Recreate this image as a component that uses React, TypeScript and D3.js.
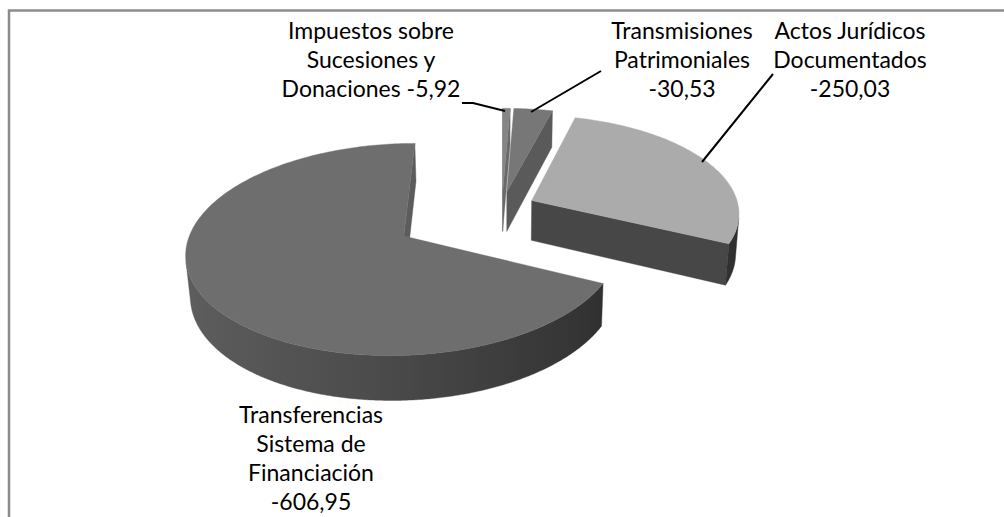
import React, { useRef, useEffect } from 'react';
import * as d3 from 'd3';

// Chart data
const categories = [
  'Impuestos sobre Sucesiones y Donaciones',
  'Transmisiones Patrimoniales',
  'Actos Jurídicos Documentados',
  'Transferencias Sistema de Financiación'
];
const values = [-5.92, -30.53, -250.03, -606.95];
const nameLines = [
  ['Impuestos sobre', 'Sucesiones y', 'Donaciones'],
  ['Transmisiones', 'Patrimoniales'],
  ['Actos Jurídicos', 'Documentados'],
  ['Transferencias', 'Sistema de', 'Financiación']
];
const valueInline = [true, false, false, false];
const explode = [33, 33, 33, 112];

// Styles
const topColors = ['#858585', '#777777', '#ababab', '#6e6e6e'];
const cutColors = ['#6a6a6a', '#5a5a5a', '#474747', '#5c5c5c'];

// Label layout (center x, first baseline) and leader lines
const labelPos = [
  { x: 371, y: 39 },
  { x: 682, y: 39 },
  { x: 850, y: 39 },
  { x: 311, y: 423 }
];
const leaders: ([number, number][] | null)[] = [
  [[462, 103], [473, 103], [505, 111]],
  [[531, 112], [601, 71]],
  [[702, 162], [773, 74]],
  null
];

const W = 1004;
const H = 517;

// 3D view settings
const R = 207;
const THICK = 46;
const PHI = (28 * Math.PI) / 180;
const DIST = 1500;
const CX = 502;
const CY = 207;

const fmt = (v: number) => d3.format('.2f')(v).replace('.', ',').replace('\u2212', '-');

function project(u: number, v: number, w: number): [number, number] {
  const depth = v * Math.cos(PHI) + w * Math.sin(PHI);
  const s = DIST / (DIST - depth);
  return [CX + s * u, CY + s * (v * Math.sin(PHI) - w * Math.cos(PHI))];
}

const cam = [0, DIST * Math.cos(PHI), DIST * Math.sin(PHI)];

function visible(p: number[], n: number[]) {
  return n[0] * (cam[0] - p[0]) + n[1] * (cam[1] - p[1]) + n[2] * (cam[2] - p[2]) > 0;
}

// side shade by outward normal angle: lighter on the left, darker on the right
function sideShade(t: number) {
  const s = Math.sin(t);
  const gv = Math.round(74 - (s > 0 ? 28 : 21) * s);
  return d3.rgb(gv, gv, gv).formatHex();
}

const App: React.FC = () => {
  const svgRef = useRef<SVGSVGElement | null>(null);

  useEffect(() => {
    if (!svgRef.current) return;
    const svg = d3.select(svgRef.current);
    svg.selectAll('*').remove();
    const defs = svg.append('defs');

    // chart border (only top and left edges show in the frame)
    svg.append('rect')
      .attr('x', 9)
      .attr('y', 10.5)
      .attr('width', 1200)
      .attr('height', 800)
      .attr('fill', 'none')
      .attr('stroke', '#8c8c8c')
      .attr('stroke-width', 2.5);

    const arcs = d3.pie<number>().sort(null).value(d => Math.abs(d))(values);

    const slices = arcs.map((a, i) => {
      const mid = (a.startAngle + a.endAngle) / 2;
      return {
        i,
        a0: a.startAngle,
        a1: a.endAngle,
        ou: explode[i] * Math.sin(mid),
        ov: -explode[i] * Math.cos(mid)
      };
    });

    const g = svg.append('g');
    const line = d3.line<[number, number]>();

    // back slices first
    slices
      .slice()
      .sort((p, q) => p.ov - q.ov)
      .forEach(sl => {
        const rim = (t: number, w: number): [number, number] =>
          project(sl.ou + R * Math.sin(t), sl.ov - R * Math.cos(t), w);
        const apex = (w: number): [number, number] => project(sl.ou, sl.ov, w);

        // cut faces
        const edges = [
          { t: sl.a0, n: [-Math.cos(sl.a0), -Math.sin(sl.a0), 0] },
          { t: sl.a1, n: [Math.cos(sl.a1), Math.sin(sl.a1), 0] }
        ];
        edges.forEach(e => {
          const mp = [
            sl.ou + (R / 2) * Math.sin(e.t),
            sl.ov - (R / 2) * Math.cos(e.t),
            -THICK / 2
          ];
          if (!visible(mp, e.n)) return;
          g.append('path')
            .attr('d', line([apex(0), rim(e.t, 0), rim(e.t, -THICK), apex(-THICK)]) + 'Z')
            .attr('fill', cutColors[sl.i])
            .attr('stroke', cutColors[sl.i])
            .attr('stroke-width', 0.4);
        });

        // outer side: find visible angle range, draw as one gradient band
        const steps = Math.max(4, Math.ceil(((sl.a1 - sl.a0) * 180) / Math.PI / 0.5));
        const ts: number[] = [];
        for (let k = 0; k <= steps; k++) {
          const t = sl.a0 + ((sl.a1 - sl.a0) * k) / steps;
          const p = [sl.ou + R * Math.sin(t), sl.ov - R * Math.cos(t), -THICK / 2];
          if (visible(p, [Math.sin(t), -Math.cos(t), 0])) ts.push(t);
        }
        if (ts.length > 1) {
          const topPts = ts.map(t => rim(t, 0));
          const botPts = ts.map(t => rim(t, -THICK)).reverse();
          const xs = topPts.map(p => p[0]);
          const x1 = d3.min(xs) as number;
          const x2 = d3.max(xs) as number;
          const gid = `side-${sl.i}`;
          const grad = defs.append('linearGradient')
            .attr('id', gid)
            .attr('gradientUnits', 'userSpaceOnUse')
            .attr('x1', x1)
            .attr('x2', x2)
            .attr('y1', 0)
            .attr('y2', 0);
          const stops = ts
            .map((t, k) => ({ off: x2 > x1 ? (xs[k] - x1) / (x2 - x1) : 0, col: sideShade(t) }))
            .sort((p, q) => p.off - q.off);
          stops.filter((_, k) => k % 6 === 0 || k === stops.length - 1).forEach(s => {
            grad.append('stop').attr('offset', s.off).attr('stop-color', s.col);
          });
          const fillCol = x2 - x1 > 1 ? `url(#${gid})` : sideShade(ts[0]);
          g.append('path')
            .attr('d', line([...topPts, ...botPts]) + 'Z')
            .attr('fill', fillCol)
            .attr('stroke', fillCol)
            .attr('stroke-width', 0.4);
        }

        // top face
        const pts: [number, number][] = [apex(0)];
        const n = Math.max(2, Math.ceil(((sl.a1 - sl.a0) * 180) / Math.PI));
        for (let k = 0; k <= n; k++) pts.push(rim(sl.a0 + ((sl.a1 - sl.a0) * k) / n, 0));
        g.append('path')
          .attr('d', line(pts) + 'Z')
          .attr('fill', topColors[sl.i])
          .attr('stroke', topColors[sl.i])
          .attr('stroke-width', 0.4);
      });

    // leader lines
    leaders.forEach(l => {
      if (!l) return;
      svg.append('path')
        .attr('d', line(l))
        .attr('fill', 'none')
        .attr('stroke', '#000')
        .attr('stroke-width', 2);
    });

    // labels
    categories.forEach((c, i) => {
      const lines = nameLines[i].slice();
      if (valueInline[i]) lines[lines.length - 1] += ' ' + fmt(values[i]);
      else lines.push(fmt(values[i]));
      const t = svg.append('text')
        .attr('text-anchor', 'middle')
        .attr('font-family', 'Lato, "Open Sans", sans-serif')
        .attr('font-size', 23)
        .attr('fill', '#000')
        .attr('aria-label', c);
      lines.forEach((s, j) => {
        t.append('tspan')
          .attr('x', labelPos[i].x)
          .attr('y', labelPos[i].y + j * 29)
          .text(s);
      });
    });
  }, []);

  return (
    <div style={{ position: 'absolute', left: 0, top: 0 }}>
      <svg ref={svgRef} width={W} height={H} style={{ display: 'block', background: '#fff' }} />
    </div>
  );
};

export default App;
